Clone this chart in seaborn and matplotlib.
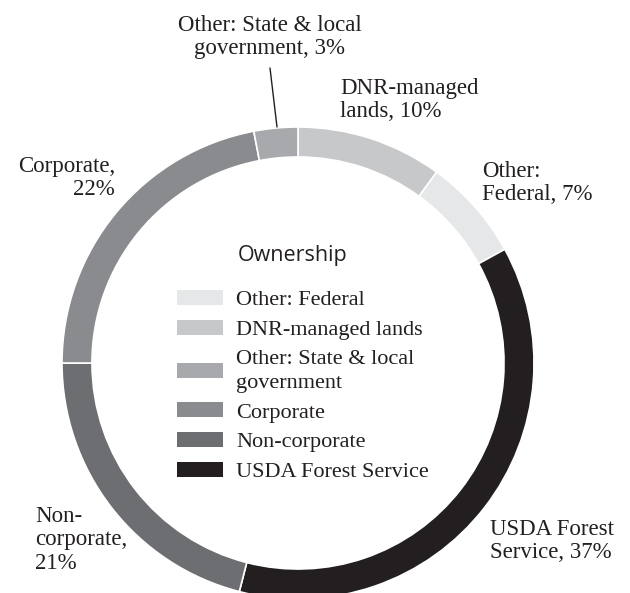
import matplotlib.pyplot as plt
import seaborn as sns
from matplotlib.patches import Patch

# pie order, clockwise from 12 o'clock
owners = ["DNR-managed lands", "Other: Federal", "USDA Forest Service",
          "Non-corporate", "Corporate", "Other: State & local\ngovernment"]
shares = [10, 7, 37, 21, 22, 3]
colors = ["#c7c8ca", "#e6e7e8", "#231f20", "#6d6e71", "#8a8b8f", "#a7a9ac"]

# legend order
legend_order = [1, 0, 5, 4, 3, 2]

# outside labels
slice_labels = ["DNR-managed\nlands, 10%", "Other:\nFederal, 7%",
                "USDA Forest\nService, 37%", "Non-\ncorporate,\n21%",
                "Corporate,\n22%", "Other: State & local\ngovernment, 3%"]

TXT = "#231f20"
W, H = 630, 593
CX, CY, R = 298, 363, 236


def to_data(px, py):
    # pixel (from top-left) -> pie data coords
    return (px - CX) / R, (CY - py) / R


sns.set_theme(style="white")
plt.rcParams["font.family"] = ["Liberation Serif", "DejaVu Serif"]

fig = plt.figure(figsize=(W / 100, H / 100), dpi=100)
ax = fig.add_axes([(CX - R) / W, (H - CY - R) / H, 2 * R / W, 2 * R / H])

ax.pie(shares, colors=colors, startangle=90, counterclock=False, radius=1,
       wedgeprops=dict(width=0.127, edgecolor="white", linewidth=1.2))
ax.set_xlim(-1, 1)
ax.set_ylim(-1, 1)
ax.axis("off")

# label placement: (x, y, ha) in pixels
label_pos = [
    (340, 100, "left"),
    (482, 183, "left"),
    (490, 541, "left"),
    (35, 540, "left"),
    (115, 178, "right"),
    (270, 37, "center"),
]
for text, (px, py, ha) in zip(slice_labels, label_pos):
    x, y = to_data(px, py)
    ax.text(x, y, text, ha=ha, va="center", fontsize=16.5, color=TXT,
            linespacing=1.15, clip_on=False, multialignment=ha)

# leader line for the 3% slice
x0, y0 = to_data(270, 68)
x1, y1 = to_data(277, 127)
ax.plot([x0, x1], [y0, y1], color=TXT, lw=1, clip_on=False)

# legend title drawn separately to get the wider gap
fig.text(293 / W, 1 - 256 / H, "Ownership", ha="center", va="center",
         family="Open Sans", fontsize=15.5, color=TXT)

handles = [Patch(facecolor=colors[i], edgecolor="none") for i in legend_order]
names = [owners[i] for i in legend_order]
leg = fig.legend(handles, names, loc="upper left",
                 bbox_to_anchor=(177 / W, 1 - 290 / H), frameon=False,
                 fontsize=16, borderpad=0, borderaxespad=0,
                 handlelength=2.05, handleheight=0.68, handletextpad=0.6,
                 labelspacing=0.42)
for t in leg.get_texts():
    t.set_color(TXT)
    t.set_linespacing(1.38)

fig.savefig("out.png", dpi=100)
